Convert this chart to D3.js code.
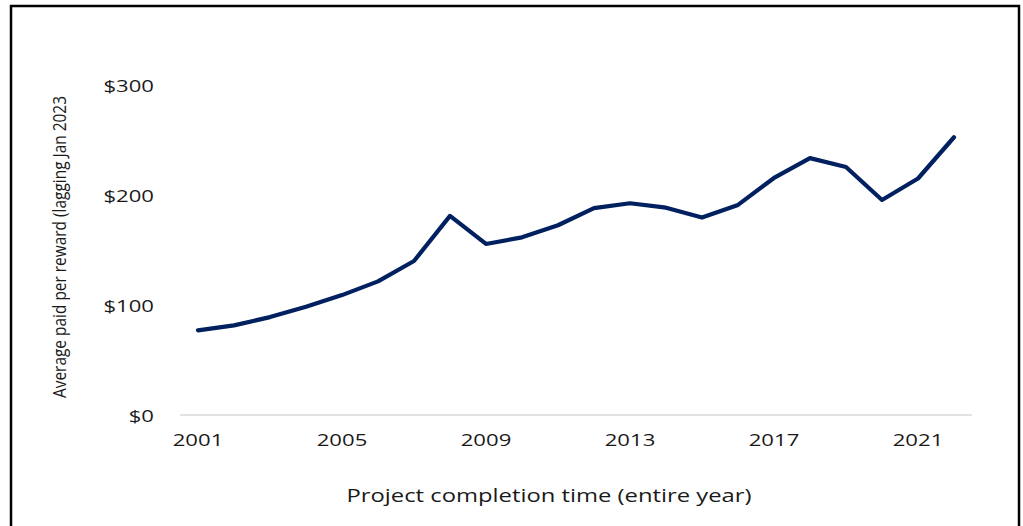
<!DOCTYPE html>
<html>
<head>
<meta charset="utf-8">
<script src="https://cdn.jsdelivr.net/npm/d3@7/dist/d3.min.js"></script>
<style>
  body { margin: 0; background: #fff; }
  svg text { font-family: "Open Sans", sans-serif; fill: #1a1a1a; }
</style>
</head>
<body>
<svg id="chart" width="1023" height="526"></svg>
<script>
// data
const years = ["2001","2002","2003","2004","2005","2006","2007","2008","2009","2010","2011",
               "2012","2013","2014","2015","2016","2017","2018","2019","2020","2021","2022"];
const avgPaid = [77, 81.5, 89, 98.5, 109, 121.5, 140, 181, 155.5, 161.5, 172.5,
                 188, 192.5, 188.5, 179.5, 191, 215.5, 233.5, 225.5, 195.5, 215, 252.5];
const xTickLabels = ["2001","2005","2009","2013","2017","2021"];
const yTicks = [0, 100, 200, 300];

const svg = d3.select("#chart");

// outer frame (bottom edge runs off the picture)
svg.append("rect")
  .attr("x", 11).attr("y", 6)
  .attr("width", 1008).attr("height", 540)
  .attr("fill", "none")
  .attr("stroke", "#000")
  .attr("stroke-width", 2.5);

const x = d3.scaleBand().domain(years).range([180, 972]);
const y = d3.scaleLinear().domain([0, 300]).range([415, 85]);

// widen horizontal text to match the stretched look of the original
function stretch(sel, factor) {
  sel.each(function() {
    const w = this.getComputedTextLength();
    d3.select(this).attr("textLength", w * factor).attr("lengthAdjust", "spacingAndGlyphs");
  });
}

// baseline gridline at $0
svg.append("line")
  .attr("x1", 180).attr("x2", 972)
  .attr("y1", y(0)).attr("y2", y(0))
  .attr("stroke", "#d9d9d9")
  .attr("stroke-width", 1.3);

// y axis
const yAxis = svg.append("g")
  .attr("transform", "translate(154,0)")
  .call(d3.axisLeft(y).tickValues(yTicks).tickSize(0).tickPadding(0).tickFormat(d => "$" + d));
yAxis.select(".domain").remove();
yAxis.selectAll("text")
  .style("font-size", "17px")
  .attr("dy", "0.36em")
  .call(stretch, 1.3);

// x axis
const xAxis = svg.append("g")
  .attr("transform", "translate(0," + y(0) + ")")
  .call(d3.axisBottom(x).tickValues(xTickLabels).tickSize(0).tickPadding(0));
xAxis.select(".domain").remove();
xAxis.selectAll("text")
  .style("font-size", "17px")
  .attr("y", 31)
  .attr("dy", 0)
  .call(stretch, 1.3);

// series line
const line = d3.line()
  .x((d, i) => x(years[i]) + x.bandwidth() / 2)
  .y(d => y(d));

svg.append("path")
  .datum(avgPaid)
  .attr("d", line)
  .attr("fill", "none")
  .attr("stroke", "#002060")
  .attr("stroke-width", 4.2)
  .attr("stroke-linejoin", "round")
  .attr("stroke-linecap", "round");

// axis titles
svg.append("text")
  .attr("x", 549).attr("y", 502)
  .attr("text-anchor", "middle")
  .style("font-size", "18px")
  .text("Project completion time (entire year)")
  .attr("textLength", 405)
  .attr("lengthAdjust", "spacingAndGlyphs");

svg.append("text")
  .attr("transform", "translate(66,398) rotate(-90)")
  .attr("text-anchor", "start")
  .style("font-size", "19px")
  .text("Average paid per reward (lagging Jan 2023")
  .attr("textLength", 302)
  .attr("lengthAdjust", "spacingAndGlyphs");
</script>
</body>
</html>
